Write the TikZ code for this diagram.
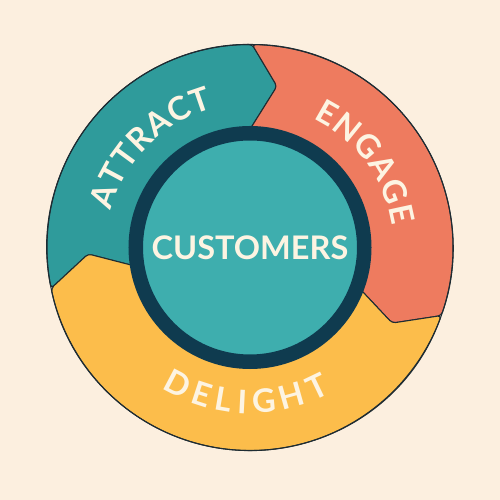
\documentclass[tikz,border=0pt]{standalone}
\usepackage{fontspec}
\setmainfont{Lato}
\usetikzlibrary{decorations.text}
\definecolor{bgcream}{HTML}{FCEFDF}
\definecolor{attractteal}{HTML}{2F9B9B}
\definecolor{engagecoral}{HTML}{EE7B5F}
\definecolor{delightyellow}{HTML}{FCBD4B}
\definecolor{hubteal}{HTML}{3EAEAE}
\definecolor{hubnavy}{HTML}{0F3B4F}
\definecolor{labelcream}{HTML}{FDF4E2}
\definecolor{edgedark}{HTML}{1E2C33}
\tikzset{
    sector/.style = {
        draw=edgedark,
        line width=0.6pt,
        rounded corners=2pt
    },
    hubnode/.style = {
        circle,
        align=center,
        inner sep=0pt,
        minimum size=4.57cm,
        fill=hubteal,
        draw=hubnavy,
        line width=2.9mm,
        text=labelcream,
        font=\fontsize{18.5}{18.5}\selectfont\bfseries
    },
    ringlabel/.style = {
        decorate,
        decoration={
            text along path,
            text align=fit to path,
            text color=labelcream
        }
    }
}

\begin{document}
\begin{tikzpicture}
    \useasboundingbox (-5,-5.05) rectangle (5,4.95);
    \fill[bgcream] (-5,-5.05) rectangle (5,4.95);
    \filldraw[sector, fill=attractteal] (191.6:4.06) arc[start angle=191.6, end angle=89.4, radius=4.06]
        -- (80.5:3.27) -- (91:2.3) arc[start angle=91, end angle=189.5, radius=2.3]
        -- (182.3:3.24) -- cycle;
    \filldraw[sector, fill=engagecoral] (89.4:4.06) arc[start angle=89.4, end angle=-19.6, radius=4.06]
        -- (-28:3.22) -- (-20:2.3) arc[start angle=-20, end angle=91, radius=2.3]
        -- (80.5:3.27) -- cycle;
    \filldraw[sector, fill=delightyellow] (-19.6:4.06) arc[start angle=-19.6, end angle=-168.4, radius=4.06]
        -- (182.3:3.24) -- (189.5:2.3) arc[start angle=-170.5, end angle=-20, radius=2.3]
        -- (-28:3.22) -- cycle;
    \draw[edgedark, line width=0.6pt] (0,0) circle[radius=4.06];
    \node[hubnode] (hub) at (0,0) {CUSTOMERS};
    \path[ringlabel, decoration={text={|\fontsize{18.5}{18.5}\selectfont\bfseries|ATTRACT}}]
        (165:2.87) arc[start angle=165, end angle=105, radius=2.87];
    \path[ringlabel, decoration={text={|\fontsize{18.5}{18.5}\selectfont\bfseries|ENGAGE}}]
        (64:2.87) arc[start angle=64, end angle=8.5, radius=2.87];
    \path[ringlabel, decoration={text={|\fontsize{18.5}{18.5}\selectfont\bfseries|DELIGHT}}]
        (238:3.32) arc[start angle=238, end angle=299, radius=3.32];
\end{tikzpicture}
\end{document}
